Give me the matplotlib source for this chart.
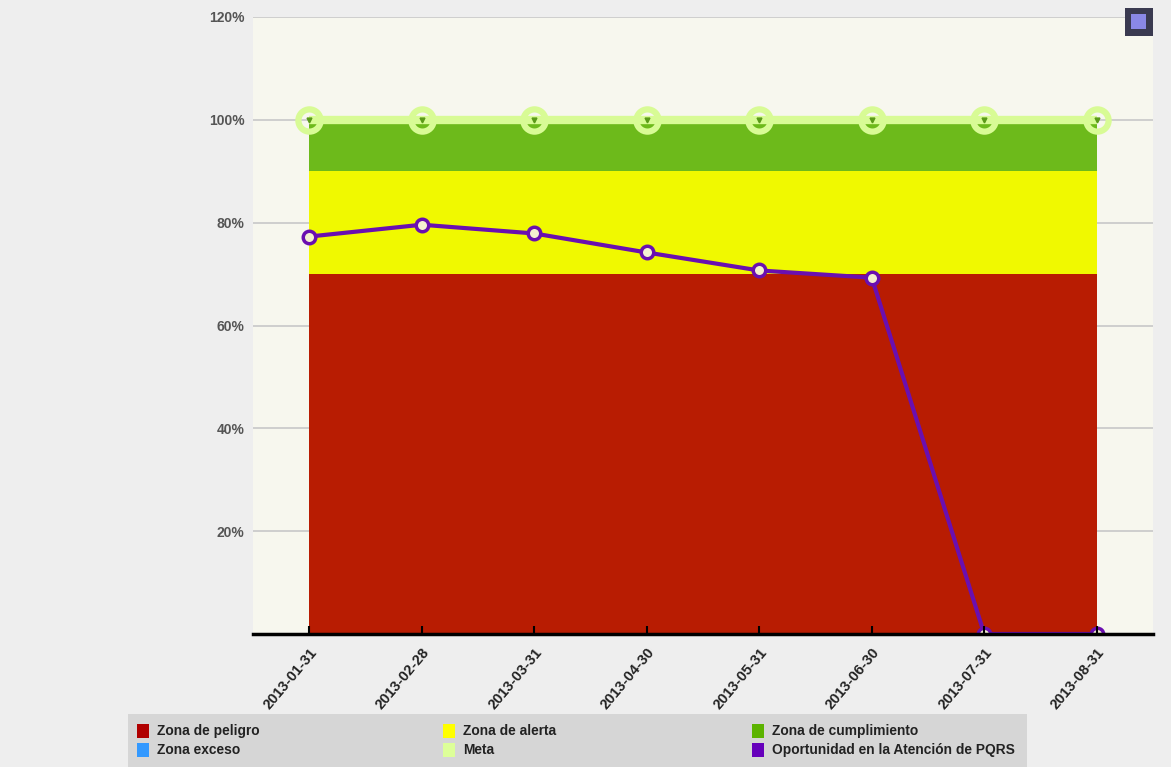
import matplotlib
matplotlib.use('Agg')
import matplotlib.pyplot as plt
import numpy as np
from matplotlib.patches import Rectangle

fechas = ['2013-01-31', '2013-02-28', '2013-03-31', '2013-04-30',
          '2013-05-31', '2013-06-30', '2013-07-31', '2013-08-31']
peligro = [70, 70, 70, 70, 70, 70, 70, 70]
alerta = [90, 90, 90, 90, 90, 90, 90, 90]
cumplimiento = [100, 100, 100, 100, 100, 100, 100, 100]
meta = [100, 100, 100, 100, 100, 100, 100, 100]
oportunidad = [77.3, 79.6, 77.9, 74.2, 70.7, 69.3, 0, 0]
y_ticks = [20, 40, 60, 80, 100, 120]

leyenda = ['Zona de peligro', 'Zona de alerta', 'Zona de cumplimiento',
           'Zona exceso', 'Meta', 'Oportunidad en la Atención de PQRS']
colores_leyenda = ['#b00000', '#ffff00', '#5cb300', '#3399ff', '#ddff99', '#6600bb']

plt.rcParams['font.family'] = ['Liberation Sans Narrow', 'Liberation Sans', 'DejaVu Sans']

fig = plt.figure(figsize=(11.71, 7.67), dpi=100)
fig.patch.set_facecolor('#eeeeee')
ax = fig.add_axes([253/1171, 1 - 634/767, 900/1171, 617/767])
ax.set_facecolor('#f7f7ee')

x = np.arange(len(fechas))
ax.fill_between(x, 0, peligro, color='#b81c02', lw=0, zorder=2)
ax.fill_between(x, peligro, alerta, color='#f0f900', lw=0, zorder=2)
ax.fill_between(x, alerta, cumplimiento, color='#6dba1b', lw=0, zorder=2)
ax.plot(x, meta, color='#d8fb95', lw=6, zorder=3, solid_capstyle='butt')
ax.plot(x, meta, ls='none', marker='o', ms=16, mfc='none', mec='#d8fb95', mew=4.5, zorder=4)
ax.plot(x, meta, ls='none', marker='v', ms=3.5, color='#5a9a18', zorder=4)
ax.plot(x, oportunidad, color='#6a0fb0', lw=3, zorder=5,
        marker='o', ms=9, mfc='#f4f0d0', mec='#6a0fb0', mew=2.5)

ax.set_xlim(-0.5, 7.5)
ax.set_ylim(0, 120)
ax.set_yticks(y_ticks)
ax.set_yticklabels([f'{v}%' for v in y_ticks], fontsize=10, fontweight='bold', color='#555555')
ax.set_xticks(x)
ax.set_xticklabels(fechas, rotation=50, ha='right', rotation_mode='anchor',
                   fontsize=10.5, fontweight='bold', color='#222222')
ax.grid(axis='y', color='#c8c8c8', lw=1.2, zorder=1)
ax.tick_params(axis='y', length=0, pad=6)
ax.tick_params(axis='x', direction='in', length=6, width=1.5, color='black', pad=8)
ax.xaxis.set_zorder(6)
for s in ['top', 'right', 'left']:
    ax.spines[s].set_visible(False)
ax.spines['bottom'].set_linewidth(2.5)
ax.spines['bottom'].set_zorder(6)

# icono arriba a la derecha
fig.patches.append(Rectangle((1125/1171, 1 - 36/767), 28/1171, 28/767,
                             transform=fig.transFigure, facecolor='#3a3a50', edgecolor='none'))
fig.patches.append(Rectangle((1131/1171, 1 - 29/767), 15/1171, 15/767,
                             transform=fig.transFigure, facecolor='#8a88e6', edgecolor='none'))

# leyenda
fig.patches.append(Rectangle((128/1171, 0), 899/1171, 53/767,
                             transform=fig.transFigure, facecolor='#d6d6d6', edgecolor='none'))
col_x = [137, 443, 752]
fila_y = [731, 750]
for i, (lab, col) in enumerate(zip(leyenda, colores_leyenda)):
    cx = col_x[i % 3]
    cy = fila_y[i // 3]
    fig.patches.append(Rectangle((cx/1171, 1 - (cy + 7)/767), 12/1171, 14/767,
                                 transform=fig.transFigure, facecolor=col, edgecolor='none'))
    fig.text((cx + 20)/1171, 1 - cy/767, lab, fontsize=9.9, fontweight='bold',
             color='#222222', va='center', ha='left')

fig.savefig('out.png', dpi=100, facecolor=fig.get_facecolor())
